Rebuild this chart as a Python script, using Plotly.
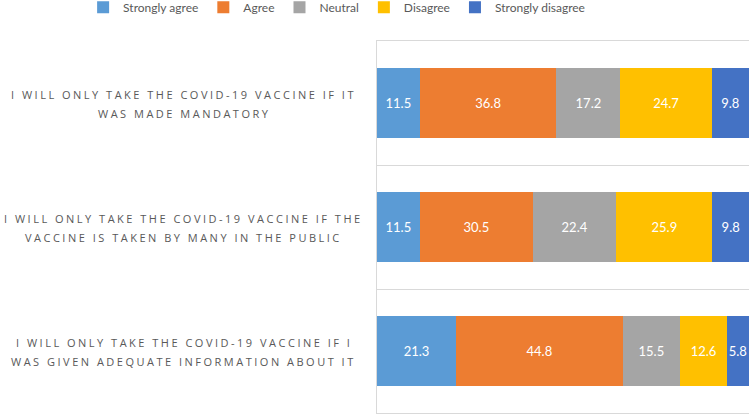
import plotly.graph_objects as go

categories = [
    "I WILL ONLY TAKE THE COVID-19 VACCINE IF IT<br>WAS MADE MANDATORY",
    "I WILL ONLY TAKE THE COVID-19 VACCINE IF THE<br>VACCINE IS TAKEN BY MANY IN THE PUBLIC",
    "I WILL ONLY TAKE THE COVID-19 VACCINE IF I<br>WAS GIVEN ADEQUATE INFORMATION ABOUT IT",
]
series_names = ["Strongly agree", "Agree", "Neutral", "Disagree", "Strongly disagree"]
strongly_agree = [11.5, 11.5, 21.3]
agree = [36.8, 30.5, 44.8]
neutral = [17.2, 22.4, 15.5]
disagree = [24.7, 25.9, 12.6]
strongly_disagree = [9.8, 9.8, 5.8]
colors = ["#5B9BD5", "#ED7D31", "#A5A5A5", "#FFC000", "#4472C4"]

values = [strongly_agree, agree, neutral, disagree, strongly_disagree]
cat_keys = [f"c{i}" for i in range(len(categories))]

fig = go.Figure()
for name, vals, col in zip(series_names, values, colors):
    fig.add_trace(go.Bar(
        y=cat_keys, x=vals, name=name, orientation="h",
        marker=dict(color=col, line=dict(width=0)),
        text=[f"{v:.1f}" for v in vals], textposition="inside",
        insidetextanchor="middle", textangle=0, constraintext="none",
        textfont=dict(color="white", size=13, family="Lato"),
        cliponaxis=False,
    ))

for key, label in zip(cat_keys, categories):
    lines = label.split("<br>")
    n = len(lines)
    for i, line in enumerate(lines):
        fig.add_annotation(
            xref="paper", yref="y", x=-0.52, y=key, xanchor="center", yanchor="middle",
            yshift=(n - 1) / 2 * 18.5 - i * 18.5 - 1,
            text=f'<span style="letter-spacing:2.5px">{line}</span>',
            showarrow=False, align="center",
            font=dict(family="Open Sans", size=11, color="#595959"),
        )

fig.update_layout(
    width=753, height=415,
    margin=dict(l=377, r=4, t=41, b=2, autoexpand=False),
    barmode="stack", bargap=0.44,
    plot_bgcolor="white", paper_bgcolor="white",
    legend=dict(orientation="h", xref="paper", yref="paper", x=-0.79, y=1.13,
                xanchor="left", yanchor="top",
                font=dict(family="Lato", size=12, color="#595959"),
                traceorder="normal"),
    xaxis=dict(range=[0, 100.13], showgrid=False, showticklabels=False, zeroline=False,
               showline=True, mirror=True, linecolor="#D9D9D9", linewidth=1),
    yaxis=dict(autorange="reversed", type="category", showticklabels=False,
               tickson="boundaries", showgrid=True, gridcolor="#D9D9D9", gridwidth=1,
               showline=True, linecolor="#D9D9D9", ticks=""),
    showlegend=True,
)
fig.write_html("out.html", config={"displayModeBar": False},
               post_script="document.body.style.margin='0';")
